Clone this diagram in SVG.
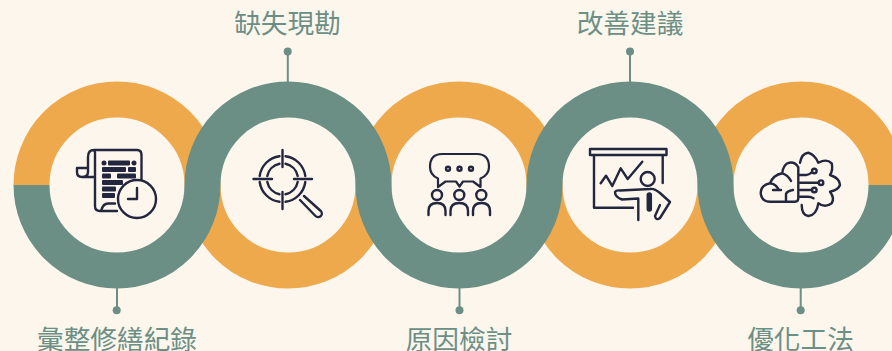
<svg xmlns="http://www.w3.org/2000/svg" width="892" height="351" viewBox="0 0 892 351">
<style>
.o{fill:none;stroke:#eea94c;stroke-width:36}
.g{fill:none;stroke:#6b8f85;stroke-width:36}
.c{fill:none;stroke:#6b8f85;stroke-width:2}
.d{fill:#6b8f85}
.t{font-family:"Noto Sans CJK TC","Noto Sans CJK SC",sans-serif;font-size:26.67px;fill:#6b8f85;text-anchor:middle}
.i{fill:none;stroke:#22263f;stroke-width:2.4;stroke-linecap:round;stroke-linejoin:round}
.b{fill:#22263f}
</style>
<rect width="892" height="351" fill="#fdf6ed"/>
<g id="orange-arcs">
<path class="o" d="M31.500 185A85.500 85.500 0 0 1 202.500 185"/>
<path class="o" d="M202.500 185A85.500 85.500 0 0 0 373.500 185"/>
<path class="o" d="M373.500 185A85.500 85.500 0 0 1 544.500 185"/>
<path class="o" d="M544.500 185A85.500 85.500 0 0 0 715.500 185"/>
<path class="o" d="M715.500 185A85.500 85.500 0 0 1 886.500 185"/>
</g>
<g id="connectors">
<path class="g" d="M31.500 185A85.500 85.500 0 0 0 202.500 185A85.500 85.500 0 0 1 373.500 185A85.500 85.500 0 0 0 544.500 185A85.500 85.500 0 0 1 715.500 185A85.500 85.500 0 0 0 886.500 185"/>
<path class="c" d="M117 288V310M287.800 82V52M459.500 288V310M630 82V52M800.700 288V310"/>
<circle class="d" cx="116.700" cy="310.300" r="4"/>
<circle class="d" cx="287.700" cy="51.500" r="4"/>
<circle class="d" cx="459.500" cy="310.300" r="4"/>
<circle class="d" cx="630" cy="51.500" r="4"/>
<circle class="d" cx="800.700" cy="310.300" r="4"/>
</g>
<g id="node-1">
<text class="t" x="117" y="349">彙整修繕紀錄</text>
<path class="i" d="M94 150H137Q141.500 150 141.500 155V180M94 150Q88 150 88 157V172Q88 177 82 177Q77 177 77 172V168H88M82 177H95M95 155V206Q95 211 100 211H117M94 150Q95.500 152 95 155M101 211Q103 203.500 108 203.500H115"/>
<g class="b"><circle cx="104" cy="163" r="2.500"/><rect x="108" y="160.500" width="22" height="5" rx="1"/><circle cx="134" cy="163" r="2.500"/><rect x="102" y="167" width="24" height="5" rx="1"/><rect x="128" y="167" width="8" height="5" rx="1"/><rect x="102" y="173.500" width="9" height="5" rx="1"/><rect x="117" y="173.500" width="19" height="5" rx="1"/><rect x="102" y="180" width="21" height="5" rx="1"/><rect x="102" y="186.500" width="14" height="5" rx="1"/><rect x="102" y="193" width="13" height="5" rx="1"/></g>
<circle cx="137" cy="199" r="19" fill="#fdf6ed" stroke="#22263f" stroke-width="2.4"/>
<path class="i" d="M137 188V199H128"/>
</g>
<g id="node-2">
<text class="t" x="287.500" y="33">缺失現勘</text>
<path class="i" d="M285.500 156.200A23 23 0 0 1 305.300 176M305.300 182A23 23 0 0 1 285.500 201.800M279.500 201.800A23 23 0 0 1 259.700 182M259.700 176A23 23 0 0 1 279.500 156.200M285.500 163.800A15.500 15.500 0 0 1 297.700 176M297.700 182A15.500 15.500 0 0 1 285.500 194.200M279.500 194.200A15.500 15.500 0 0 1 267.300 182M267.300 176A15.500 15.500 0 0 1 279.500 163.800"/>
<path class="i" d="M282.500 150V167M282.500 192V209M253.500 179H272M294 179H312M300 200L315.500 216A3.600 3.600 0 0 0 320.800 211L304 196"/>
</g>
<g id="node-3">
<text class="t" x="459" y="349">原因檢討</text>
<path class="i" style="stroke-width:2.2" d="M442 154H477Q489 154 489 167Q489 175 480.500 178.500V187L473 181.500H463L459.500 186.500L456 181.500H445.500L438 187V178.500Q430 175 430 167Q430 154 442 154Z"/>
<circle class="i" cx="448" cy="168.700" r="2"/><circle class="i" cx="459.500" cy="168.700" r="2"/><circle class="i" cx="471" cy="168.700" r="2"/>
<circle class="i" cx="437" cy="195" r="5"/><circle class="i" cx="459.300" cy="195" r="5"/><circle class="i" cx="481.300" cy="195" r="5"/>
<path class="i" d="M428.500 215V211Q428.500 203 437 203T445.500 211V215M450.500 215V211Q450.500 203 459.300 203T468 211V215M473 215V211Q473 203 481.500 203T490 211V215"/>
</g>
<g id="node-4">
<text class="t" x="630" y="33">改善建議</text>
<path class="i" d="M590 149H666.500V155H590ZM594 155V207.700H633M662.700 155V183M600.700 183.300L606 175.700L612.300 186L620.700 168.300L627.700 179L642.300 161.700"/>
<circle class="i" cx="647.700" cy="179" r="7"/>
<path class="i" d="M638.300 220V198.500L622 199.500Q615 197 615 192Q616 190 620 190.500L650 189Q654 188 660 193L670 202L660 218Q656 221 655 216L660 205"/>
<path d="M649.300 195V209" stroke="#22263f" stroke-width="5.500" stroke-linecap="round"/>
</g>
<g id="node-5">
<text class="t" x="800.500" y="349">優化工法</text>
<path class="i" d="M798.300 167.300Q795 161.700 789.300 162.700Q783.300 164 782.300 173.300Q773.300 175 770 183.300Q760.700 185 760.700 193.300Q761.700 201.700 770 201.700H795Q798.300 201.700 798.300 198.300ZM782.300 173.300Q788 175 791 181M770 183.300Q776 184 779 190M773 190H781M786 201.700V194Q787 191 793 190"/>
<path class="i" d="M800 162.700Q801.700 153.300 808.300 152.700Q815 155 818.300 162.700Q826.700 158.300 831.700 163.300Q833.300 170 830 175Q840 178.300 840 185Q838.300 190 830 191.700Q835 198.300 831.700 203.300Q825 208.300 818.300 203.300Q816.700 215 808.300 216Q801.700 215 801.700 205"/>
<path class="i" d="M799 175H806.500Q809 175 811.500 172.500M800 182.700H818M800 190H811.500M800 196.700H808Q811 196.700 813.500 198.300"/>
<circle class="i" cx="814.300" cy="171" r="2.300"/><circle class="i" cx="821" cy="182.700" r="2.300"/><circle class="i" cx="814.300" cy="190" r="2.300"/>
</g>
</svg>
